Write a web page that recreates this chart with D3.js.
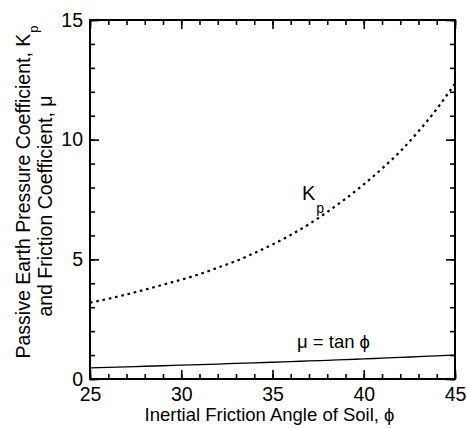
<!DOCTYPE html>
<html>
<head>
<meta charset="utf-8">
<script src="https://cdn.jsdelivr.net/npm/d3@7"></script>
<style>
  body { margin: 0; background: #fff; }
  svg { display: block; font-family: "Liberation Sans", Arial, sans-serif; }
</style>
</head>
<body>
<div id="chart"></div>
<script>
// values
const phi = [25, 26, 27, 28, 29, 30, 31, 32, 33, 34, 35, 36, 37, 38, 39, 40, 41, 42, 43, 44, 45];
const kp  = [3.19, 3.35, 3.53, 3.73, 3.94, 4.15, 4.38, 4.65, 4.93, 5.26, 5.62, 6.02, 6.47, 6.98, 7.53, 8.13, 8.79, 9.51, 10.35, 11.28, 12.35];
const mu  = [0.466, 0.488, 0.510, 0.532, 0.554, 0.577, 0.601, 0.625, 0.649, 0.675, 0.700, 0.727, 0.754, 0.781, 0.810, 0.839, 0.869, 0.900, 0.933, 0.966, 1.000];
const xMajor = [25, 30, 35, 40, 45];
const xMinor = d3.range(25, 46, 1);
const yMajor = [0, 5, 10, 15];
const yMinor = d3.range(0, 16, 1);

const W = 467, H = 428;
const margin = {top: 20, right: 12, bottom: 49, left: 90};
const width = W - margin.left - margin.right;
const height = H - margin.top - margin.bottom;

const svg = d3.select("#chart").append("svg")
  .attr("width", W)
  .attr("height", H);

const g = svg.append("g")
  .attr("transform", "translate(" + margin.left + "," + margin.top + ")");

const x = d3.scaleLinear().domain([25, 45]).range([0, width]);
const y = d3.scaleLinear().domain([0, 15]).range([height, 0]);

const majorLen = 9, minorLen = 5;

// helper: draw an axis with inward ticks
function addAxis(axis, transform, labels) {
  const a = g.append("g")
    .attr("transform", transform)
    .style("font-size", "19.5px")
    .style("font-family", "'Liberation Sans', Arial, sans-serif")
    .call(axis);
  a.select(".domain").remove();
  a.selectAll(".tick line").attr("stroke", "#000").attr("stroke-width", 1.6);
  if (!labels) a.selectAll(".tick text").remove();
  else a.selectAll(".tick text").attr("fill", "#000");
  return a;
}

// bottom
addAxis(d3.axisBottom(x).tickValues(xMinor).tickSize(-minorLen).tickFormat(""), "translate(0," + height + ")", false);
addAxis(d3.axisBottom(x).tickValues(xMajor).tickSize(-majorLen).tickPadding(8).tickFormat(d3.format("d")), "translate(0," + height + ")", true);
// top
addAxis(d3.axisTop(x).tickValues(xMinor).tickSize(-minorLen).tickFormat(""), "translate(0,0)", false);
addAxis(d3.axisTop(x).tickValues(xMajor).tickSize(-majorLen).tickFormat(""), "translate(0,0)", false);
// left
addAxis(d3.axisLeft(y).tickValues(yMinor).tickSize(-minorLen).tickFormat(""), "translate(0,0)", false);
addAxis(d3.axisLeft(y).tickValues(yMajor).tickSize(-majorLen).tickPadding(7).tickFormat(d3.format("d")), "translate(0,0)", true);
// right
addAxis(d3.axisRight(y).tickValues(yMinor).tickSize(-minorLen).tickFormat(""), "translate(" + width + ",0)", false);
addAxis(d3.axisRight(y).tickValues(yMajor).tickSize(-majorLen).tickFormat(""), "translate(" + width + ",0)", false);

// frame
g.append("rect")
  .attr("x", 0).attr("y", 0)
  .attr("width", width).attr("height", height)
  .attr("fill", "none")
  .attr("stroke", "#000")
  .attr("stroke-width", 2);

// curves
const line = d3.line().curve(d3.curveMonotoneX);

g.append("path")
  .attr("d", line(phi.map((p, i) => [x(p), y(kp[i])])))
  .attr("fill", "none")
  .attr("stroke", "#000")
  .attr("stroke-width", 2.2)
  .attr("stroke-dasharray", "2.6,3.8");

g.append("path")
  .attr("d", line(phi.map((p, i) => [x(p), y(mu[i])])))
  .attr("fill", "none")
  .attr("stroke", "#000")
  .attr("stroke-width", 1.3);

// curve labels
const kLabel = svg.append("text")
  .attr("x", 302).attr("y", 200)
  .style("font-size", "20px");
kLabel.append("tspan").text("K");
kLabel.append("tspan").attr("dx", 1).attr("dy", 13).style("font-size", "14px").text("p");

svg.append("text")
  .attr("x", 297).attr("y", 348)
  .style("font-size", "18.5px")
  .text("μ = tan ϕ");

// axis titles
svg.append("text")
  .attr("x", margin.left + width / 2 - 3)
  .attr("y", 421)
  .attr("text-anchor", "middle")
  .style("font-size", "18.5px")
  .text("Inertial Friction Angle of Soil, ϕ");

const yl1 = svg.append("text")
  .attr("transform", "translate(30,192) rotate(-90)")
  .attr("text-anchor", "middle")
  .style("font-size", "19.5px");
yl1.append("tspan").text("Passive Earth Pressure Coefficient, K");
yl1.append("tspan").attr("dx", 1).attr("dy", 8).style("font-size", "13px").text("p");

svg.append("text")
  .attr("transform", "translate(52,206) rotate(-90)")
  .attr("text-anchor", "middle")
  .style("font-size", "19.5px")
  .text("and Friction Coefficient, μ");
</script>
</body>
</html>
